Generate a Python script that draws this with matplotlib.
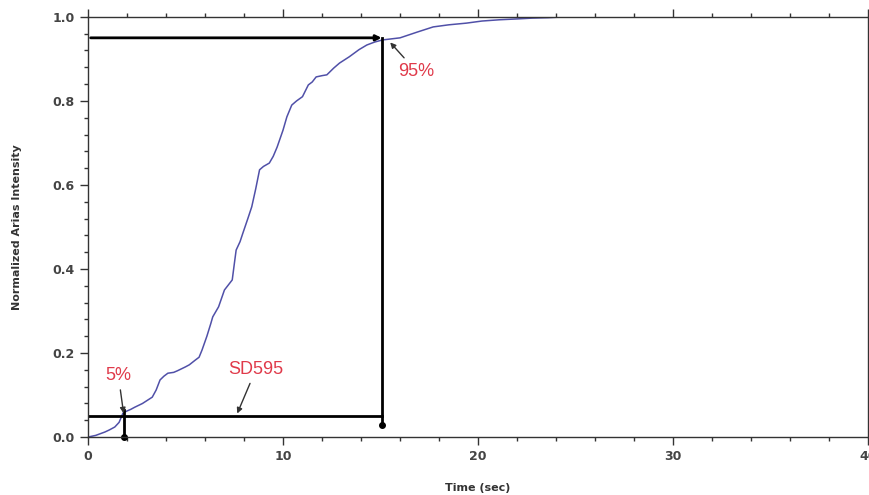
import matplotlib.pyplot as plt
from matplotlib.ticker import MultipleLocator

# courbe d'intensite d'Arias normalisee
t = [0.0, 0.4, 0.87, 1.1, 1.38, 1.6, 1.8, 2.0, 2.2, 2.4, 2.8, 3.0, 3.3, 3.5, 3.7, 3.9,
     4.1, 4.4, 4.6, 5.0, 5.2, 5.5, 5.7, 5.85, 6.1, 6.3, 6.4, 6.7, 6.85, 7.0, 7.2, 7.4,
     7.5, 7.6, 7.8, 7.95, 8.2, 8.4, 8.6, 8.8, 9.0, 9.3, 9.5, 9.7, 10.0, 10.2, 10.45,
     10.7, 11.0, 11.3, 11.5, 11.7, 12.0, 12.25, 12.6, 12.9, 13.4, 13.9, 14.3, 14.7,
     15.1, 16.0, 16.9, 17.7, 18.5, 19.4, 20.2, 21.1, 22.0, 22.8, 23.6, 24.5, 25.5, 26.4]
ai = [0.0, 0.004, 0.012, 0.017, 0.024, 0.035, 0.057, 0.062, 0.066, 0.071, 0.08, 0.086,
      0.095, 0.112, 0.136, 0.145, 0.152, 0.154, 0.158, 0.167, 0.172, 0.183, 0.19, 0.207,
      0.24, 0.27, 0.286, 0.31, 0.33, 0.35, 0.362, 0.374, 0.41, 0.445, 0.465, 0.486,
      0.52, 0.548, 0.59, 0.636, 0.644, 0.652, 0.668, 0.69, 0.73, 0.762, 0.79, 0.8, 0.81,
      0.838, 0.845, 0.857, 0.86, 0.862, 0.878, 0.89, 0.905, 0.922, 0.933, 0.94, 0.945,
      0.95, 0.964, 0.976, 0.981, 0.985, 0.99, 0.993, 0.995, 0.997, 0.998, 1.0, 1.0, 1.0]

t5, t95 = 1.85, 15.1   # temps a 5% et 95%
i5, i95 = 0.05, 0.95

fig = plt.figure(figsize=(8.7, 4.95), dpi=100)
ax = fig.add_axes([0.101, 0.117, 0.897, 0.849])

ax.plot(t, ai, color='#5050a8', linewidth=1.1)

# lignes de reperes 5% / 95%
ax.plot([0, t95], [i5, i5], color='black', linewidth=2)
ax.annotate('', xy=(t95 + 0.1, i95), xytext=(0, i95),
            arrowprops=dict(arrowstyle='-|>', color='black', lw=2, mutation_scale=8))
ax.plot([t95, t95], [i95, 0.028], color='black', linewidth=2)
ax.plot([t95], [0.028], 'o', color='black', markersize=4)
ax.plot([t5, t5], [0.065, 0.0], color='black', linewidth=2, clip_on=False)
ax.plot([t5], [0.0], 'o', color='black', markersize=4, clip_on=False)

red = '#e03a4a'
fnt = dict(color=red, fontsize=13, family=['Liberation Sans', 'DejaVu Sans'])
arr = dict(arrowstyle='-|>', color='#333333', lw=1, mutation_scale=8)
ax.annotate('5%', xy=(t5, i5), xytext=(0.9, 0.135), arrowprops=arr, **fnt)
ax.annotate('SD595', xy=(7.6, i5), xytext=(7.2, 0.15), arrowprops=arr, **fnt)
ax.annotate('95%', xy=(15.4, 0.944), xytext=(15.9, 0.86), arrowprops=arr, **fnt)

ax.set_xlim(0, 40)
ax.set_ylim(0, 1.0)
ax.xaxis.set_major_locator(MultipleLocator(10))
ax.xaxis.set_minor_locator(MultipleLocator(2))
ax.yaxis.set_major_locator(MultipleLocator(0.2))
ax.yaxis.set_minor_locator(MultipleLocator(0.04))
ax.yaxis.set_major_formatter(plt.FuncFormatter(lambda v, p: '%.1f' % v))
ax.tick_params(which='both', direction='out', top=True, colors='#333333',
               labelsize=9, width=1)
ax.tick_params(which='major', length=6)
ax.tick_params(which='minor', length=3)
for lab in ax.get_xticklabels() + ax.get_yticklabels():
    lab.set_fontweight('bold')
    lab.set_color('#444444')
for s in ax.spines.values():
    s.set_color('#333333')
    s.set_linewidth(1)

ax.set_xlabel('Time (sec)', fontsize=8, fontweight='bold', color='#333333', labelpad=14)
ax.set_ylabel('Normalized Arias Intensity', fontsize=8, fontweight='bold',
              color='#333333', labelpad=22)

fig.savefig('out.png', dpi=100)
